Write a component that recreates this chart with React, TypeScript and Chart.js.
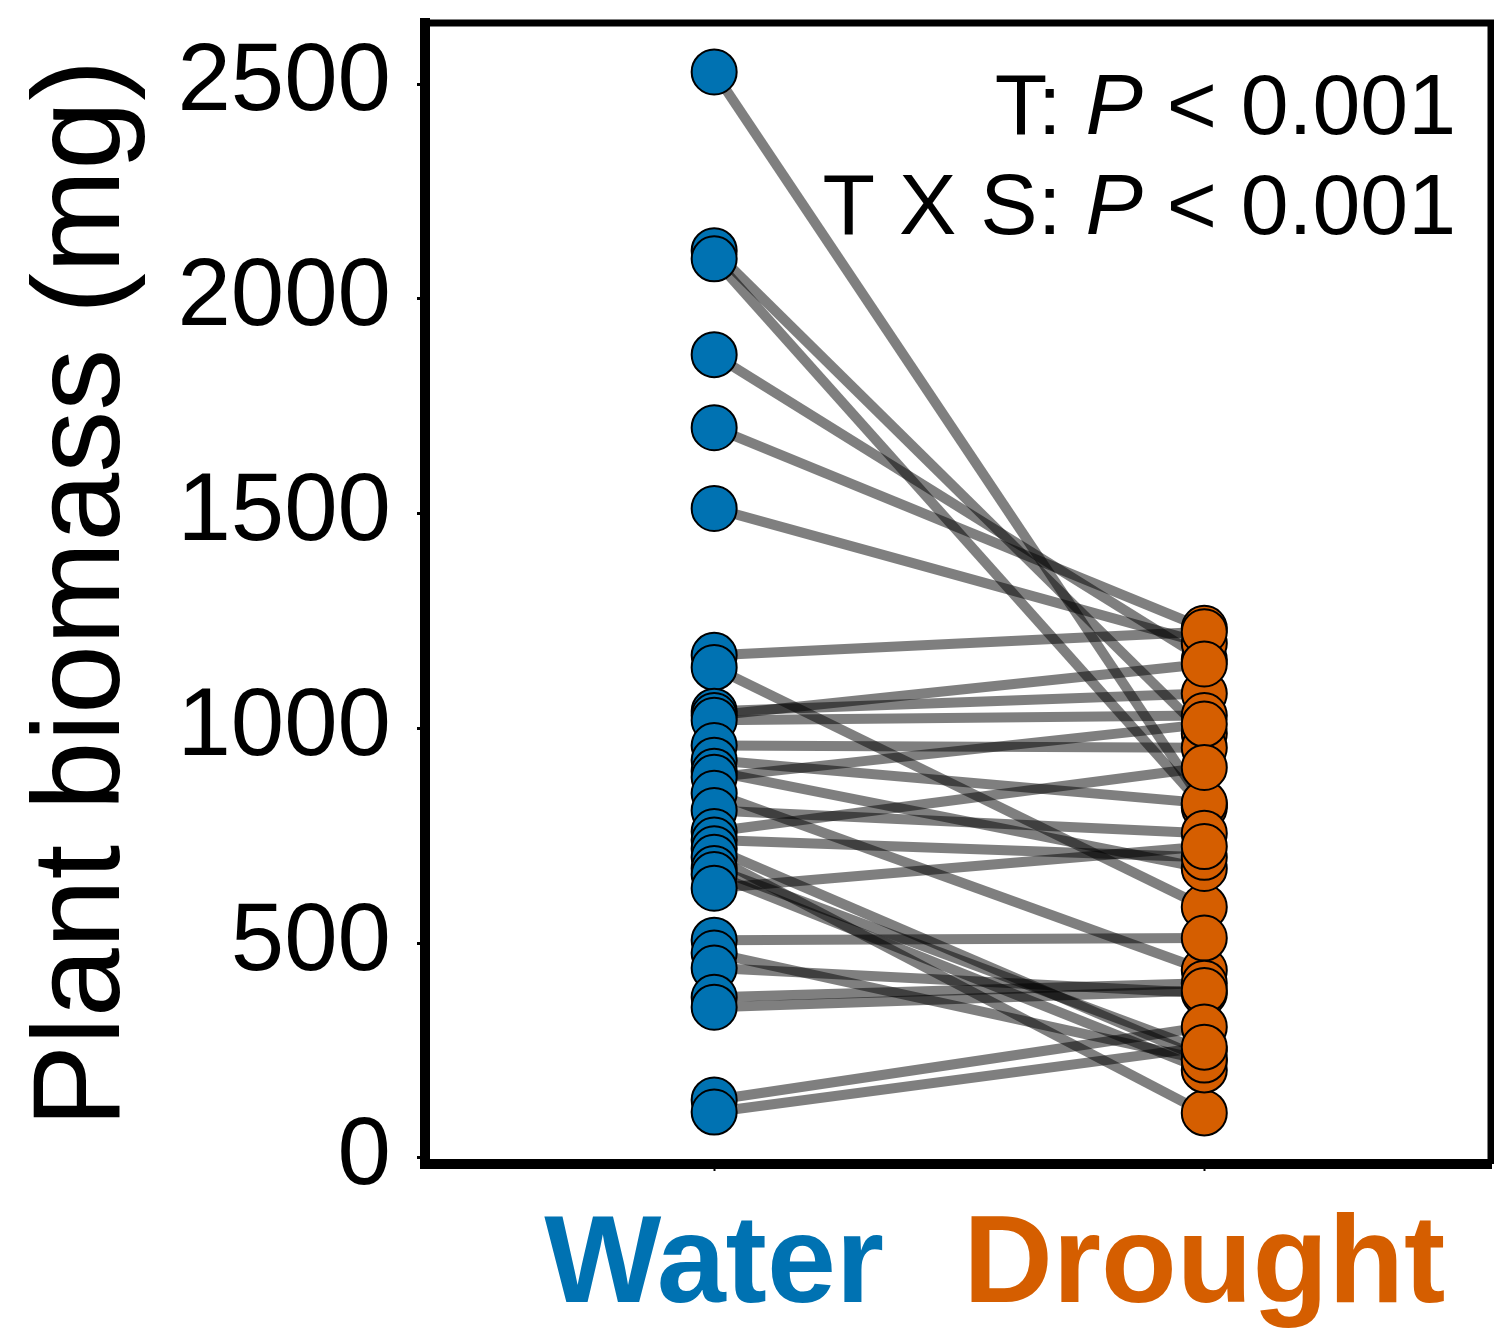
import React, { useEffect, useRef } from "react";
import { Chart, registerables } from "chart.js";

Chart.register(...registerables);

// ---- data ----
const categories = ["Water", "Drought"];
const categoryColors = ["#0072B2", "#D55E00"];
// paired plant biomass (mg): waterValues[i] -> droughtValues[i]
const waterValues = [2528, 2112, 2093, 1870, 1700, 1512, 1170, 1142, 1040, 1030, 1019, 960, 926, 900, 886, 849, 809, 760, 740, 720, 700, 674, 660, 628, 507, 477, 442, 374, 351, 135, 107];
const droughtValues = [823, 988, 816, 1160, 1233, 1198, 1225, 584, 1081, 1150, 1030, 955, 826, 674, 1010, 437, 756, 909, 700, 230, 105, 250, 205, 725, 512, 228, 384, 407, 390, 305, 258];
const yTicks = [0, 500, 1000, 1500, 2000, 2500];
const annotations = [
  ["T: ", "P", " < 0.001"],
  ["T X S: ", "P", " < 0.001"],
];

const FONT = "'Liberation Sans', Arial, Helvetica, sans-serif";

const framePlugin = {
  id: "frame",
  afterDraw(chart: any) {
    const { ctx, chartArea } = chart;
    ctx.save();
    ctx.strokeStyle = "#000";
    ctx.lineWidth = 7;
    ctx.beginPath();
    ctx.moveTo(chartArea.left, chartArea.top);
    ctx.lineTo(chartArea.right, chartArea.top);
    ctx.lineTo(chartArea.right, chartArea.bottom);
    ctx.stroke();
    // annotation text
    ctx.fillStyle = "#000";
    ctx.textBaseline = "alphabetic";
    const size = 86;
    const rightX = 1456;
    const baselines = [134, 234];
    annotations.forEach((parts, li) => {
      const fonts = [
        `${size}px ${FONT}`,
        `italic ${size}px ${FONT}`,
        `${size}px ${FONT}`,
      ];
      let total = 0;
      const widths = parts.map((p, i) => {
        ctx.font = fonts[i];
        const w = ctx.measureText(p).width;
        total += w;
        return w;
      });
      let x = rightX - total;
      parts.forEach((p, i) => {
        ctx.font = fonts[i];
        ctx.fillText(p, x, baselines[li]);
        x += widths[i];
      });
    });
    ctx.restore();
  },
};

export default function App() {
  const ref = useRef<HTMLCanvasElement>(null);

  useEffect(() => {
    if (!ref.current) return;
    const lineSets = waterValues.map((w, i) => ({
      type: "line" as const,
      data: [
        { x: 1, y: w },
        { x: 2, y: droughtValues[i] },
      ],
      borderColor: "rgba(0,0,0,0.5)",
      borderWidth: 10,
      pointRadius: 0,
      pointHoverRadius: 0,
      fill: false,
      order: 2,
    }));
    const pointSets = categories.map((c, ci) => ({
      type: "scatter" as const,
      label: c,
      data: (ci === 0 ? waterValues : droughtValues).map((v) => ({ x: ci + 1, y: v })),
      backgroundColor: categoryColors[ci],
      borderColor: "#000",
      borderWidth: 2,
      pointRadius: 22.5,
      pointHoverRadius: 22.5,
      order: 0,
    }));

    const chart = new Chart(ref.current, {
      type: "scatter",
      data: { datasets: [...pointSets, ...lineSets] as any },
      options: {
        animation: false,
        responsive: false,
        devicePixelRatio: 1,
        layout: { autoPadding: false, padding: { top: 23, right: 3, left: 0, bottom: 0 } },
        plugins: { legend: { display: false }, tooltip: { enabled: false } },
        scales: {
          x: {
            type: "linear",
            min: 0.41,
            max: 2.585,
            afterBuildTicks: (scale: any) => {
              scale.ticks = [{ value: 1 }, { value: 2 }];
            },
            afterFit: (scale: any) => {
              scale.height = 1334 - 1164;
              scale.paddingLeft = 0;
              scale.paddingRight = 0;
            },
            ticks: {
              callback: (v: any) => categories[Math.round(Number(v)) - 1] ?? "",
              color: (ctx: any) => categoryColors[ctx.index] ?? "#000",
              font: { family: FONT, size: 124, weight: "bold" },
              padding: 22,
              maxRotation: 0,
              autoSkip: false,
            },
            grid: {
              display: true,
              drawOnChartArea: false,
              drawTicks: true,
              tickLength: 7,
              tickWidth: 2,
              tickColor: "#000",
            },
            border: { display: true, color: "#000", width: 10 },
          },
          y: {
            type: "linear",
            min: -14,
            max: 2642,
            afterBuildTicks: (scale: any) => {
              scale.ticks = yTicks.map((v) => ({ value: v }));
            },
            afterFit: (scale: any) => {
              scale.width = 425;
              scale.paddingTop = 0;
              scale.paddingBottom = 0;
            },
            ticks: {
              callback: (v: any) => String(v),
              color: "#000",
              font: { family: FONT, size: 96 },
              padding: 26,
              autoSkip: false,
            },
            grid: {
              display: true,
              drawOnChartArea: false,
              drawTicks: true,
              tickLength: 8,
              tickWidth: 3,
              tickColor: "#000",
            },
            border: { display: true, color: "#000", width: 10 },
            title: {
              display: true,
              text: "Plant biomass (mg)",
              color: "#000",
              font: { family: FONT, size: 124 },
              padding: { top: 10, bottom: 0 },
            },
          },
        },
      },
      plugins: [framePlugin],
    });
    return () => chart.destroy();
  }, []);

  return (
    <div style={{ position: "absolute", left: 0, top: 0, width: 1494, height: 1334, background: "#fff" }}>
      <canvas ref={ref} width={1494} height={1334} style={{ display: "block" }} />
    </div>
  );
}
